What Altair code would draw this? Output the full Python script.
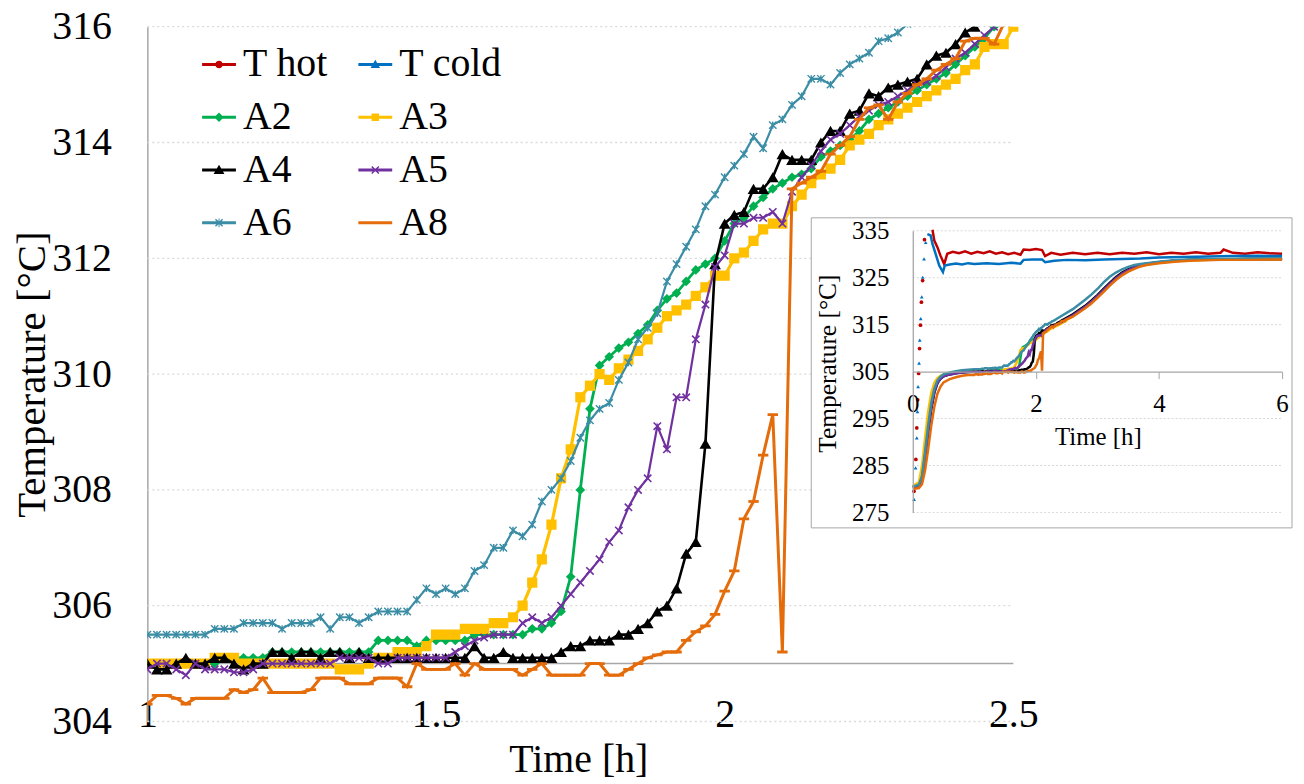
import altair as alt
import pandas as pd

FONT = "Liberation Serif"
GRID = "#D9D9D9"
AXIS = "#A6A6A6"

# ---------------- legend / series ----------------
names = ["T hot", "T cold", "A2", "A3", "A4", "A5", "A6", "A8"]
colors = ["#C00000", "#0070C0", "#00B050", "#FFC000", "#000000", "#7030A0", "#3A8DA5", "#E46C0A"]

# ---------------- main chart: 1-minute samples starting at t = 1 h ----------------
A2 = [305.0, 305.0, 305.0, 305.0, 305.0, 305.0, 305.0, 305.0, 305.1, 305.1,
      305.1, 305.1, 305.1, 305.2, 305.2, 305.2, 305.2, 305.2, 305.2, 305.2,
      305.2, 305.2, 305.2, 305.2, 305.4, 305.4, 305.4, 305.4, 305.3, 305.4,
      305.4, 305.4, 305.4, 305.4, 305.5, 305.5, 305.5, 305.5, 305.5, 305.5,
      305.6, 305.6, 305.7, 305.9, 306.5, 308.0, 309.4, 310.15, 310.3, 310.45,
      310.55, 310.7, 310.85, 311.1, 311.3, 311.4, 311.6, 311.8, 311.9, 312.0,
      312.3, 312.6, 312.7, 312.9, 313.05, 313.2, 313.3, 313.4, 313.45, 313.55,
      313.75, 313.85, 313.95, 314.05, 314.2, 314.4, 314.5, 314.6, 314.7, 314.8,
      314.9, 315.0, 315.1, 315.2, 315.35, 315.5, 315.65, 315.8, 316.0]
A3 = [305.0, 305.0, 305.0, 305.0, 305.0, 305.0, 305.0, 305.1, 305.1, 305.1,
      305.0, 305.0, 305.0, 305.0, 305.0, 305.0, 305.0, 305.0, 305.0, 305.0,
      304.9, 304.9, 304.9, 305.0, 305.1, 305.1, 305.2, 305.2, 305.2, 305.3,
      305.5, 305.5, 305.5, 305.6, 305.6, 305.6, 305.7, 305.7, 305.8, 306.0,
      306.4, 306.8, 307.4, 308.2, 308.7, 309.6, 309.8, 310.0, 309.9, 310.1,
      310.25, 310.4, 310.6, 310.8, 311.0, 311.1, 311.2, 311.35, 311.5, 311.7,
      311.7, 312.0, 312.1, 312.3, 312.5, 312.6, 312.6, 312.9, 313.1, 313.3,
      313.45, 313.55, 313.7, 313.95, 314.05, 314.15, 314.3, 314.4, 314.5, 314.6,
      314.7, 314.8, 314.9, 315.0, 315.1, 315.25, 315.35, 315.65, 315.7, 315.7,
      316.0]
A4 = [305.0, 304.9, 304.9, 305.0, 305.1, 305.0, 305.0, 305.1, 305.1, 305.0,
      304.9, 305.0, 305.0, 305.2, 305.2, 305.1, 305.2, 305.2, 305.1, 305.2,
      305.2, 305.1, 305.2, 305.1, 305.1, 305.1, 305.1, 305.1, 305.1, 305.1,
      305.1, 305.1, 305.1, 305.1, 305.3, 305.1, 305.1, 305.2, 305.1, 305.1,
      305.1, 305.1, 305.1, 305.2, 305.3, 305.3, 305.4, 305.4, 305.4, 305.5,
      305.5, 305.6, 305.7, 305.9, 306.0, 306.3, 306.9, 307.1, 308.8, 311.9,
      312.6, 312.75, 312.8, 313.2, 313.2, 313.4, 313.8, 313.7, 313.7, 313.7,
      314.0, 314.2, 314.2, 314.5, 314.55, 314.85, 314.8, 314.95, 315.0, 315.05,
      315.1, 315.35, 315.5, 315.55, 315.7, 315.9, 316.0]
A5 = [304.9, 305.0, 305.0, 304.9, 304.8, 305.0, 304.9, 304.9, 304.9, 304.85,
      304.85, 304.9, 305.0, 305.0, 305.0, 305.0, 305.0, 305.0, 305.0, 305.0,
      305.1, 305.1, 305.1, 305.1, 305.0, 305.0, 305.1, 305.1, 305.1, 305.1,
      305.1, 305.1, 305.2, 305.3, 305.4, 305.45, 305.5, 305.5, 305.5, 305.7,
      305.8, 305.7, 305.8, 306.0, 306.2, 306.4, 306.6, 306.8, 307.1, 307.3,
      307.7, 308.0, 308.2, 309.1, 308.7, 309.6, 309.6, 310.6, 311.2, 311.85,
      312.05, 312.6, 312.6, 312.7, 312.7, 312.8, 312.6, 313.15, 313.4, 313.6,
      313.85, 314.05, 314.15, 314.3, 314.45, 314.55, 314.65, 314.7, 314.8, 314.9,
      315.0, 315.05, 315.15, 315.3, 315.45, 315.55, 315.7, 315.85, 316.0]
A6 = [305.5, 305.5, 305.5, 305.5, 305.5, 305.5, 305.5, 305.6, 305.6, 305.6,
      305.7, 305.7, 305.7, 305.7, 305.6, 305.7, 305.7, 305.7, 305.8, 305.6,
      305.8, 305.8, 305.7, 305.8, 305.9, 305.9, 305.9, 305.9, 306.1, 306.3,
      306.2, 306.3, 306.2, 306.3, 306.6, 306.7, 307.0, 307.0, 307.3, 307.2,
      307.4, 307.8, 308.0, 308.2, 308.5, 308.9, 309.2, 309.4, 309.5, 309.9,
      310.2, 310.6, 310.8, 311.05, 311.6, 311.9, 312.2, 312.5, 312.9, 313.1,
      313.4, 313.6, 313.8, 314.1, 313.9, 314.3, 314.4, 314.65, 314.8, 315.1,
      315.1, 315.0, 315.2, 315.35, 315.45, 315.55, 315.75, 315.8, 315.9, 316.05,
      316.2]
A8 = [304.3, 304.45, 304.45, 304.4, 304.3, 304.4, 304.4, 304.4, 304.4, 304.55,
      304.5, 304.55, 304.75, 304.5, 304.5, 304.5, 304.5, 304.55, 304.75, 304.75,
      304.75, 304.65, 304.65, 304.65, 304.75, 304.75, 304.75, 304.6, 305.0, 304.9,
      304.9, 304.9, 305.0, 304.8, 305.0, 304.9, 304.9, 304.9, 304.9, 304.8,
      304.9, 305.0, 304.8, 304.8, 304.8, 304.8, 305.0, 305.0, 304.8, 304.8,
      304.9, 305.0, 305.1, 305.15, 305.2, 305.2, 305.4, 305.55, 305.65, 305.85,
      306.25, 306.6, 307.5, 307.8, 308.6, 309.3, 305.2, 313.2, 313.3, 313.4,
      313.5, 313.8, 313.95, 314.1, 314.4, 314.6, 314.65, 314.4, 314.7, 314.85,
      315.0, 315.1, 315.25, 315.35, 315.45, 315.75, 315.8, 315.8, 315.7, 316.05]

main_series = {"A2": A2, "A3": A3, "A4": A4, "A5": A5, "A6": A6, "A8": A8}

main_grid = [304, 306, 308, 310, 312, 314, 316]
main_yticks = [304, 306, 308, 310, 312, 314, 316]
main_xticks = [1, 1.5, 2, 2.5]

# ---------------- inset chart data ----------------
EARLY_T = [0, 0.1, 0.15, 0.2, 0.25, 0.3, 0.35, 0.4, 0.45, 0.5, 0.6, 0.7, 0.8, 0.9]
EARLY = {
    "A2": [280.5, 280.8, 282.5, 287.5, 293.0, 297.8, 301.0, 302.8, 303.6, 304.1, 304.5, 304.7, 304.9, 305.0],
    "A3": [280.6, 281.5, 285.0, 291.0, 296.5, 300.5, 302.6, 303.6, 304.1, 304.4, 304.7, 304.8, 304.9, 305.0],
    "A4": [280.3, 280.6, 282.0, 286.5, 292.0, 297.0, 300.5, 302.5, 303.5, 304.0, 304.4, 304.7, 304.8, 304.9],
    "A5": [280.4, 280.7, 282.2, 287.0, 292.5, 297.3, 300.7, 302.6, 303.5, 304.0, 304.4, 304.6, 304.8, 304.9],
    "A6": [280.5, 280.9, 282.8, 288.0, 293.5, 298.3, 301.4, 303.1, 303.9, 304.4, 304.8, 305.1, 305.3, 305.4],
    "A8": [280.0, 280.2, 281.0, 284.0, 288.5, 293.5, 297.5, 300.3, 301.8, 302.7, 303.4, 303.8, 304.1, 304.3],
}
LATE_T = [2.6, 2.7, 2.8, 2.9, 3.0, 3.1, 3.2, 3.3, 3.4, 3.5, 3.6, 3.7, 3.8, 4.0, 4.25, 4.5, 5.0, 5.5, 6.0]
LATE = {
    "A2": [317.1, 318.0, 318.9, 320.0, 321.2, 322.5, 323.8, 325.0, 326.0, 326.7, 327.3, 327.7, 328.0, 328.3, 328.6, 328.8, 328.9, 329.0, 329.0],
    "A3": [316.8, 317.7, 318.6, 319.6, 320.8, 322.1, 323.4, 324.6, 325.6, 326.4, 327.0, 327.5, 327.8, 328.2, 328.5, 328.7, 328.9, 328.9, 328.9],
    "A4": [317.2, 318.1, 319.0, 320.1, 321.3, 322.6, 323.9, 325.1, 326.1, 326.8, 327.3, 327.7, 328.0, 328.3, 328.6, 328.8, 328.9, 329.0, 329.0],
    "A5": [317.0, 317.9, 318.8, 319.9, 321.1, 322.4, 323.7, 324.9, 325.9, 326.6, 327.2, 327.6, 327.9, 328.3, 328.6, 328.8, 328.9, 329.0, 329.0],
    "A6": [318.3, 319.3, 320.3, 321.4, 322.6, 324.0, 325.2, 326.1, 326.8, 327.3, 327.7, 327.9, 328.1, 328.4, 328.7, 328.9, 329.0, 329.1, 329.1],
    "A8": [316.7, 317.6, 318.5, 319.5, 320.7, 322.0, 323.3, 324.5, 325.5, 326.3, 326.9, 327.4, 327.7, 328.1, 328.4, 328.6, 328.8, 328.8, 328.9],
}
THOT_RISE_T = [0.02, 0.05, 0.065, 0.08, 0.095, 0.11, 0.125, 0.14, 0.16, 0.19]
THOT_RISE_V = [279.5, 286.3, 293.0, 299.0, 304.6, 309.9, 314.9, 319.8, 324.4, 333.1]
THOT_T = [0.32, 0.35, 0.40, 0.45, 0.51, 0.56, 0.65, 0.75, 0.85, 0.95, 1.05, 1.15, 1.25, 1.35, 1.45,
          1.55, 1.65, 1.75, 1.8, 1.9, 2.0, 2.1, 2.15, 2.25, 2.4, 2.6, 2.8, 3.0, 3.2, 3.4, 3.6,
          3.8, 4.0, 4.2, 4.4, 4.6, 4.8, 5.0, 5.05, 5.2, 5.4, 5.6, 5.8, 6.0]
THOT_V = [335.2, 332.9, 331.5, 329.7, 327.9, 330.1, 330.5, 330.2, 330.6, 330.1, 330.5, 330.2, 330.6,
          330.1, 330.4, 330.0, 330.3, 329.9, 331.0, 330.9, 331.1, 330.9, 329.6, 330.3, 329.9, 330.3,
          330.0, 330.3, 330.0, 330.3, 330.1, 330.4, 330.0, 330.3, 330.1, 330.4, 330.1, 330.3, 331.0,
          330.3, 330.1, 330.4, 330.2, 330.1]
TCOLD_RISE_T = [0.021, 0.045, 0.065, 0.076, 0.086, 0.102, 0.113, 0.129, 0.146, 0.162, 0.183, 0.21]
TCOLD_RISE_V = [277.8, 284.5, 290.9, 296.5, 301.8, 306.8, 311.7, 316.3, 320.9, 325.1, 329.0, 332.5]
TCOLD_T = [0.237, 0.29, 0.32, 0.38, 0.43, 0.49, 0.52, 0.6, 0.7, 0.8, 0.9, 1.0, 1.2, 1.4, 1.6, 1.75,
           1.8, 1.95, 2.1, 2.15, 2.3, 2.5, 2.8, 3.1, 3.4, 3.7, 4.0, 4.4, 4.8, 5.2, 5.6, 6.0]
TCOLD_V = [334.3, 334.0, 332.2, 329.7, 327.6, 326.2, 327.6, 327.8, 328.0, 327.8, 328.1, 327.9, 328.1,
           327.9, 328.2, 328.0, 328.8, 328.9, 328.9, 328.3, 328.6, 328.8, 328.7, 328.9, 329.0, 329.1,
           329.3, 329.4, 329.5, 329.6, 329.7, 329.6]
inset_grid = [275, 285, 295, 315, 325, 335]
inset_yticks = [275, 285, 295, 305, 315, 325, 335]
inset_xticks = [0, 2, 4, 6]

# ---------------- build tables ----------------
main_rows = []
for s, vals in main_series.items():
    for i, v in enumerate(vals):
        main_rows.append({"series": s, "t": 1 + i / 60, "v": v})
main_df = pd.DataFrame(main_rows)

inset_rows = []
for s, vals in main_series.items():
    for t, v in zip(EARLY_T, EARLY[s]):
        inset_rows.append({"series": s, "t": t, "v": v})
    for i, v in enumerate(vals):
        inset_rows.append({"series": s, "t": 1 + i / 60, "v": v})
    for t, v in zip(LATE_T, LATE[s]):
        inset_rows.append({"series": s, "t": t, "v": v})
for t, v in zip(THOT_T, THOT_V):
    inset_rows.append({"series": "T hot", "t": t, "v": v})
for t, v in zip(TCOLD_T, TCOLD_V):
    inset_rows.append({"series": "T cold", "t": t, "v": v})
inset_df = pd.DataFrame(inset_rows)
rise_df = pd.DataFrame(
    [{"series": "T hot", "t": t, "v": v} for t, v in zip(THOT_RISE_T, THOT_RISE_V)]
    + [{"series": "T cold", "t": t, "v": v} for t, v in zip(TCOLD_RISE_T, TCOLD_RISE_V)]
)
color_of = dict(zip(names, colors))

# ---------------- scales & axes ----------------
xs_main = alt.Scale(domain=[1, 2.5], range=[0, 870], nice=False, zero=False)
ys_main = alt.Scale(domain=[304, 316], range=[698, 0], nice=False, zero=False)
xs_in = alt.Scale(domain=[0, 6], range=[769, 1140], nice=False, zero=False)
ys_in = alt.Scale(domain=[275, 335], range=[488, 205], nice=False, zero=False)

ax_mx = alt.Axis(orient="bottom", values=main_xticks, format="~g", domain=False, ticks=False, tickSize=0,
                 grid=False, labelFont=FONT, labelFontSize=40, labelColor="black",
                 labelBaseline="alphabetic", labelPadding=5, labelFlush=False, labelOverlap=False,
                 title="Time [h]", titleFont=FONT, titleFontSize=40, titleFontWeight="normal",
                 titleColor="black", titleX=433, titleY=50, titleBaseline="alphabetic", titleAlign="center")
ax_my = alt.Axis(orient="left", values=main_yticks, format="d", domain=True, domainColor=AXIS,
                 domainWidth=1.5, ticks=False, tickSize=0, grid=False, labelFont=FONT, labelFontSize=40,
                 labelColor="black", labelPadding=36, labelOverlap=False,
                 title="Temperature [°C]", titleFont=FONT, titleFontSize=41, titleFontWeight="normal",
                 titleColor="black", titleAngle=270, titleX=-103, titleY=349, titleBaseline="alphabetic",
                 titleAlign="center")
ax_ix = alt.Axis(orient="bottom", offset=-351.5, values=inset_xticks, format="d", domain=True,
                 domainColor=AXIS, domainWidth=1.3, ticks=True, tickSize=7, tickColor=AXIS, grid=False,
                 labelFont=FONT, labelFontSize=25, labelColor="black", labelBaseline="alphabetic",
                 labelPadding=33, labelFlush=False, labelOverlap=False, zindex=2,
                 title="Time [h]", titleFont=FONT, titleFontSize=25, titleFontWeight="normal",
                 titleColor="black", titleX=955, titleY=73, titleBaseline="alphabetic", titleAlign="center")
ax_iy = alt.Axis(orient="left", offset=-769, values=inset_yticks, format="d", domain=True,
                 domainColor=AXIS, domainWidth=1.3, ticks=False, tickSize=0, grid=False, labelFont=FONT,
                 labelFontSize=25, labelColor="black", labelPadding=24, labelOverlap=False, zindex=2,
                 title="Temperature [°C]", titleFont=FONT, titleFontSize=25.5, titleFontWeight="normal",
                 titleColor="black", titleAngle=270, titleX=-78, titleY=338, titleBaseline="alphabetic",
                 titleAlign="center")


def MX(f):
    return alt.X(f, type="quantitative", scale=xs_main, axis=ax_mx)


def MY(f):
    return alt.Y(f, type="quantitative", scale=ys_main, axis=ax_my)


def IX(f):
    return alt.X(f, type="quantitative", scale=xs_in, axis=ax_ix)


def IY(f):
    return alt.Y(f, type="quantitative", scale=ys_in, axis=ax_iy)


# ---------------- main layers ----------------
main_layers = []
grid_df = pd.DataFrame({"g": main_grid, "x1": 1.0, "x2": 2.5})
main_layers.append(
    alt.Chart(grid_df).mark_rule(color=GRID, strokeWidth=1.3, strokeDash=[2, 3])
    .encode(x=MX("x1"), x2=alt.X2("x2"), y=MY("g"))
)
axis_df = pd.DataFrame({"y": [305.0], "x1": [1.0], "x2": [2.5]})
main_layers.append(
    alt.Chart(axis_df).mark_rule(color=AXIS, strokeWidth=1.5)
    .encode(x=MX("x1"), x2=alt.X2("x2"), y=MY("y"))
)

marker_style = {
    "A2": dict(shape="diamond", filled=True, size=95, strokeWidth=0),
    "A3": dict(shape="square", filled=True, size=105, strokeWidth=0),
    "A4": dict(shape="triangle-up", filled=True, size=140, strokeWidth=0),
    "A5": dict(shape="M-1,-1L1,1M-1,1L1,-1", filled=False, size=55, strokeWidth=1.6),
    "A6": dict(shape="M-1,-1L1,1M-1,1L1,-1M0,-1L0,1", filled=False, size=55, strokeWidth=1.4),
    "A8": dict(shape="M-1,0L1,0", filled=False, size=110, strokeWidth=2.8),
}
line_width = {"A2": 2.8, "A3": 3.2, "A4": 2.6, "A5": 2.2, "A6": 2.2, "A8": 3}

for s in ["A2", "A3", "A4", "A5", "A6", "A8"]:
    base = alt.Chart(main_df).transform_filter(alt.datum.series == s)
    main_layers.append(
        base.mark_line(color=color_of[s], strokeWidth=line_width[s], clip=True)
        .encode(x=MX("t"), y=MY("v"), order="t:Q")
    )
    main_layers.append(
        base.mark_point(color=color_of[s], opacity=1, clip=True, **marker_style[s])
        .encode(x=MX("t"), y=MY("v"))
    )

LINE = "M-1,-0.085H1V0.085H-1Z"
XS = "M-0.24,-0.18L-0.18,-0.24L0.24,0.18L0.18,0.24Z M0.18,-0.24L0.24,-0.18L-0.18,0.24L-0.24,0.18Z"
legend_path_of = {
    "T hot": LINE + " M0.22,0A0.22,0.22 0 1,1 -0.22,0A0.22,0.22 0 1,1 0.22,0Z",
    "T cold": LINE + " M0,-0.28L0.28,0.2L-0.28,0.2Z",
    "A2": LINE + " M0,-0.28L0.28,0L0,0.28L-0.28,0Z",
    "A3": LINE + " M-0.22,-0.22H0.22V0.22H-0.22Z",
    "A4": LINE + " M0,-0.32L0.32,0.24L-0.32,0.24Z",
    "A5": LINE + " " + XS,
    "A6": LINE + " " + XS + " M-0.03,-0.26H0.03V0.26H-0.03Z",
    "A8": LINE,
}
# legend fills column by column: first column T hot, A2, A4, A6; second T cold, A3, A5, A8
legend_order = ["T hot", "A2", "A4", "A6", "T cold", "A3", "A5", "A8"]
leg = alt.Legend(orient="none", legendX=52, legendY=18, columns=2, title=None,
                 labelFont=FONT, labelFontSize=40, labelColor="black", labelOffset=4,
                 labelBaseline="middle", symbolSize=1156, symbolStrokeWidth=0,
                 rowPadding=13, columnPadding=27, padding=0, labelLimit=300)
leg_df = pd.DataFrame({"series": names, "t": [1.0] * 8, "v": [305.0] * 8})
main_layers.append(
    alt.Chart(leg_df).transform_filter("false").mark_point(filled=True, opacity=1)
    .encode(
        x=MX("t"), y=MY("v"),
        color=alt.Color("series:N", scale=alt.Scale(domain=legend_order,
                                                    range=[color_of[s] for s in legend_order]), legend=leg),
        shape=alt.Shape("series:N", scale=alt.Scale(domain=legend_order,
                                                    range=[legend_path_of[s] for s in legend_order]), legend=leg),
    )
)
main = alt.layer(*main_layers)

# ---------------- inset layers ----------------
inset_layers = []
inset_layers.append(
    alt.Chart(pd.DataFrame({"k": [0]})).mark_rect(fill="white", stroke=AXIS, strokeWidth=1)
    .encode(x=alt.value(667), x2=alt.value(1150), y=alt.value(192), y2=alt.value(503.5))
)
grid2_df = pd.DataFrame({"g": inset_grid, "x1": 0.0, "x2": 6.0})
inset_layers.append(
    alt.Chart(grid2_df).mark_rule(color=GRID, strokeWidth=1, strokeDash=[2, 2])
    .encode(x=IX("x1"), x2=alt.X2("x2"), y=IY("g"))
)
for s in names:
    inset_layers.append(
        alt.Chart(inset_df).transform_filter(alt.datum.series == s)
        .mark_line(color=color_of[s], strokeWidth=2.5)
        .encode(x=IX("t"), y=IY("v"), order="t:Q")
    )
    if s in ("T hot", "T cold"):
        inset_layers.append(
            alt.Chart(rise_df).transform_filter(alt.datum.series == s)
            .mark_point(color=color_of[s], filled=True, opacity=1, size=14,
                        shape="circle" if s == "T hot" else "triangle-up")
            .encode(x=IX("t"), y=IY("v"))
        )
inset = alt.layer(*inset_layers)

chart = (
    alt.layer(main, inset)
    .resolve_scale(x="independent", y="independent")
    .properties(width=1150, height=698,
                autosize=alt.AutoSizeParams(type="none"),
                padding={"left": 140, "top": 17, "right": 4, "bottom": 59})
    .configure(font=FONT)
    .configure_axis(labelFont=FONT, titleFont=FONT)
    .configure_legend(labelFont=FONT)
    .configure_view(strokeWidth=0)
)

chart.save("out.html", embed_options={"renderer": "svg", "actions": False})
